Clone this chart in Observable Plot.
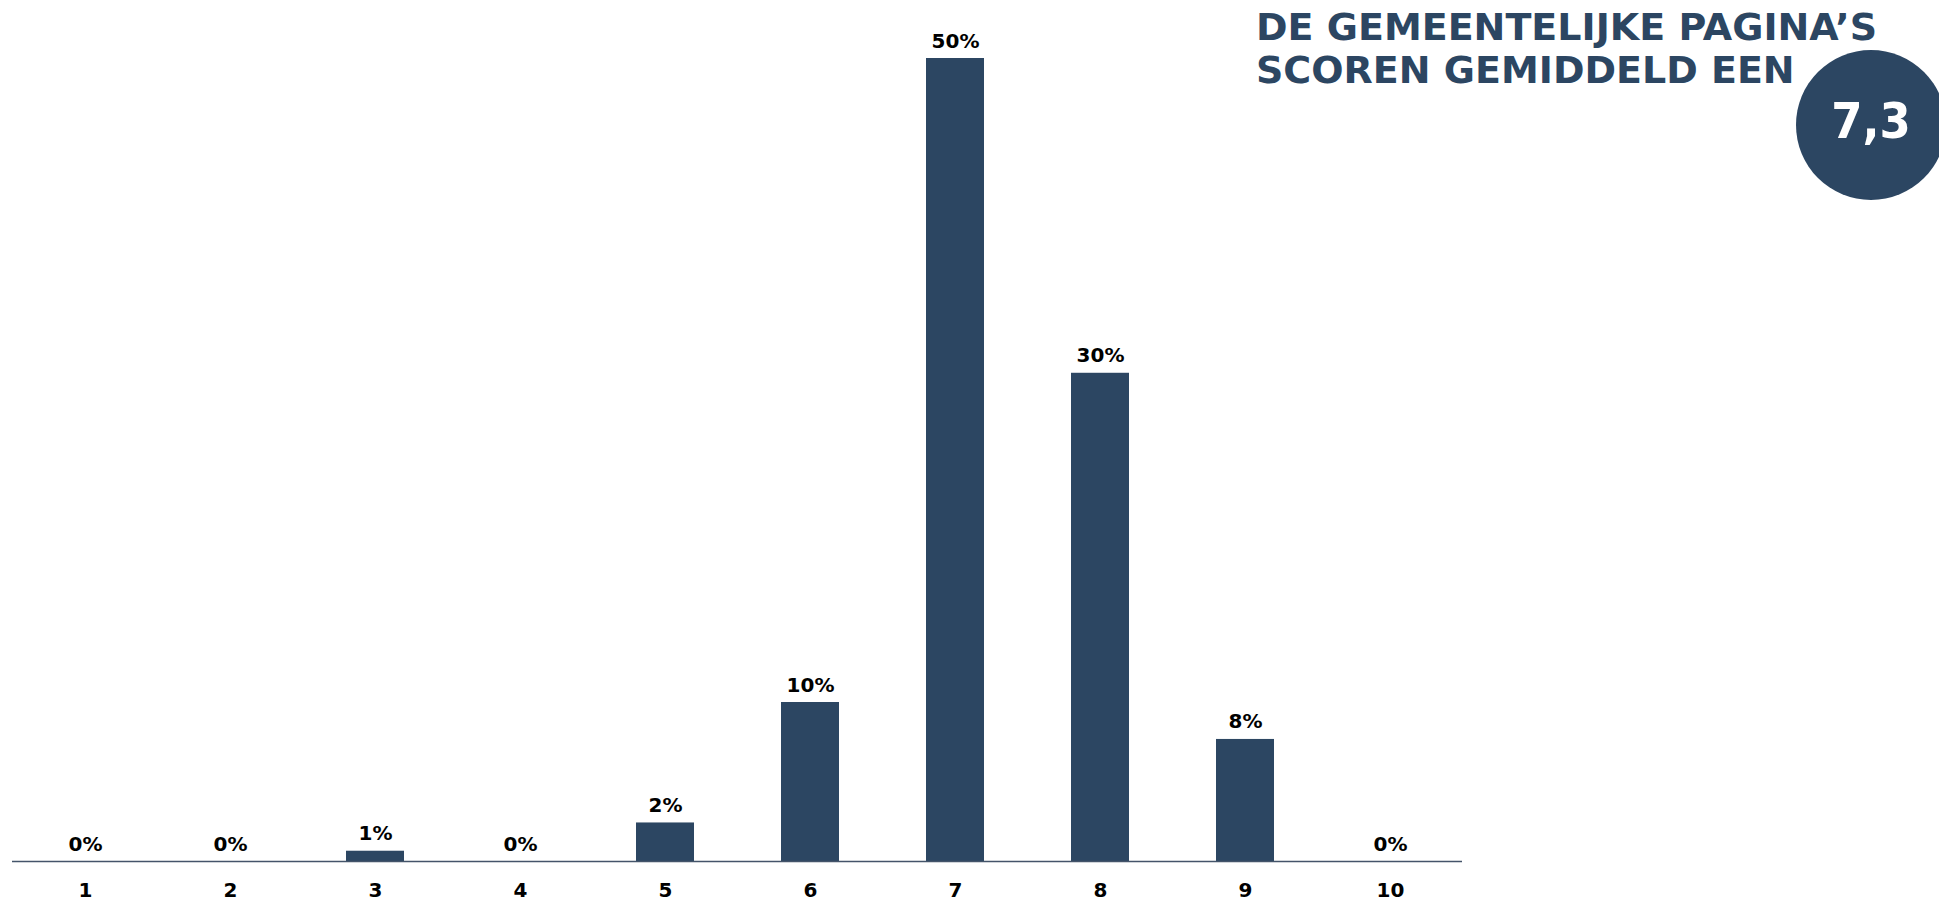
<!DOCTYPE html>
<html>
<head>
<meta charset="utf-8">
<script src="https://cdn.jsdelivr.net/npm/d3@7"></script>
<script src="https://cdn.jsdelivr.net/npm/@observablehq/plot@0.6"></script>
<style>
  html, body { margin: 0; padding: 0; background: #fff; overflow: hidden; }
  #wrap { position: relative; width: 1939px; height: 902px; overflow: hidden; }
  #title {
    position: absolute; left: 1256px; top: 6px;
    font-family: "DejaVu Sans", sans-serif; font-weight: bold;
    font-size: 38px; line-height: 43px; color: #2C4662; white-space: nowrap;
  }
  #badge {
    position: absolute; left: 1796px; top: 50px; width: 150px; height: 150px;
    border-radius: 50%; background: #2C4662; color: #fff; text-align: center;
    font-family: "DejaVu Sans Condensed", "DejaVu Sans", sans-serif; font-weight: bold;
    font-size: 50px; line-height: 150px;
  }
  #badge span { position: relative; top: -4px; }
  #chart { position: absolute; left: 0; top: 0; }
</style>
</head>
<body>
<div id="wrap">
  <div id="chart"></div>
  <div id="title">DE GEMEENTELIJKE PAGINA’S<br>SCOREN GEMIDDELD EEN</div>
  <div id="badge"><span>7,3</span></div>
</div>
<script>
const scores = ["1", "2", "3", "4", "5", "6", "7", "8", "9", "10"];
const percentages = [0, 0, 0.64, 0, 2.4, 9.9, 50, 30.4, 7.6, 0];
const valueLabels = ["0%", "0%", "1%", "0%", "2%", "10%", "50%", "30%", "8%", "0%"];

const data = scores.map((s, i) => ({score: s, pct: percentages[i], label: valueLabels[i]}));

const barColor = "#2C4662";

const chart = Plot.plot({
  width: 1939,
  height: 902,
  marginLeft: 12,
  marginRight: 477,
  marginTop: 58,
  marginBottom: 41,
  style: {fontFamily: "DejaVu Sans, sans-serif", background: "transparent"},
  x: {domain: scores, paddingInner: 0.6, paddingOuter: 0.3, label: null},
  y: {domain: [0, 50], axis: null},
  marks: [
    Plot.barY(data, {x: "score", y: "pct", fill: barColor}),
    Plot.ruleY([0], {stroke: "#44546A", strokeWidth: 1.5}),
    Plot.text(data, {x: "score", y: "pct", text: "label", lineAnchor: "bottom", dy: -11,
      fontSize: 20, fontWeight: "bold", fill: "#000"}),
    Plot.axisX({tickSize: 0, tickPadding: 21, fontSize: 20, fontWeight: "bold", fill: "#000", label: null})
  ]
});
document.getElementById("chart").appendChild(chart);
</script>
</body>
</html>
